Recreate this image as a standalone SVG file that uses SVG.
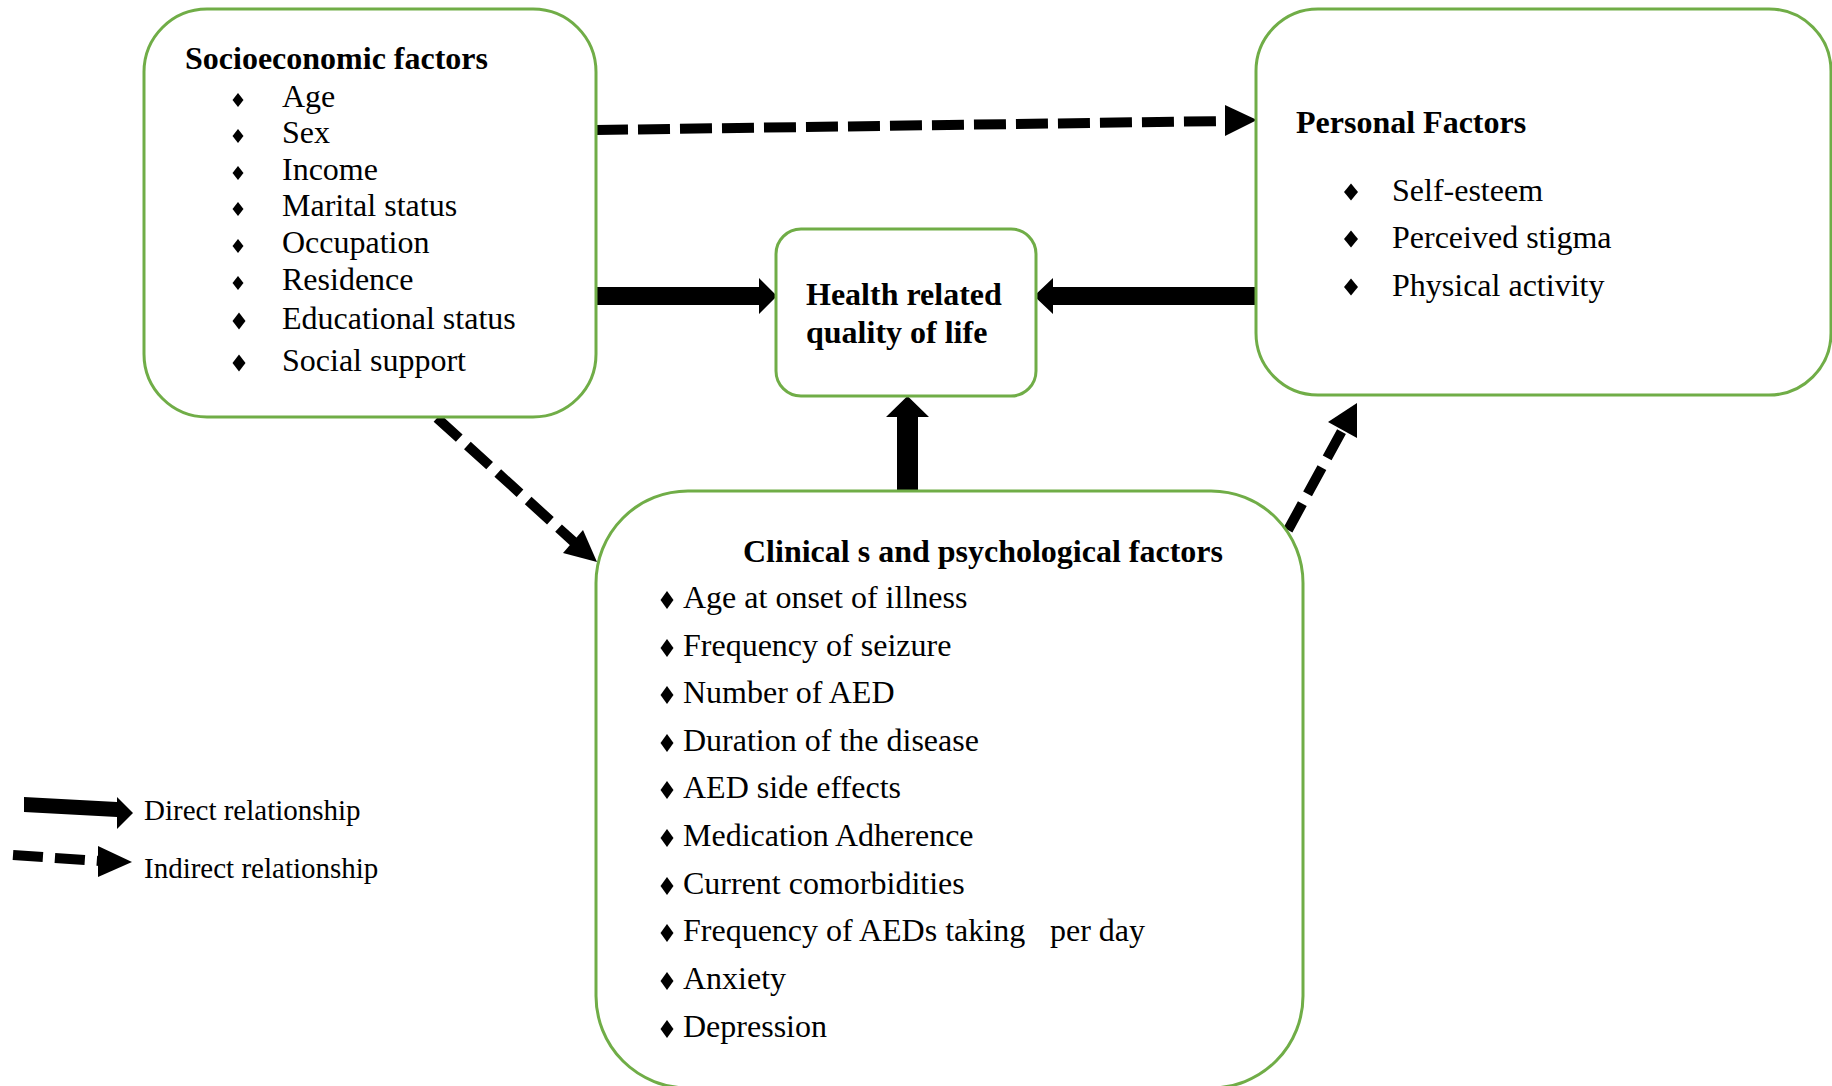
<svg xmlns="http://www.w3.org/2000/svg" xmlns:xlink="http://www.w3.org/1999/xlink" width="1832" height="1086" viewBox="0 0 1832 1086">
<style>
.box{fill:#fff;stroke:#70AD47;stroke-width:3}
.t{font-family:"Liberation Serif","Times New Roman",serif;font-size:32px;fill:#000}
.b{font-weight:bold}
.lg{font-size:29px}
.dash{fill:none;stroke:#000;stroke-width:10}
.solid{fill:#000}
</style>
<defs>
<polygon id="ds" points="0,-7 5.5,0 0,7 -5.5,0" fill="#000"/>
<polygon id="dm" points="0,-8.5 6.5,0 0,8.5 -6.5,0" fill="#000"/>
<polygon id="dr" points="0,-8.5 7,0 0,8.5 -7,0" fill="#000"/>
<polygon id="dc" points="0,-9 6.5,0 0,9 -6.5,0" fill="#000"/>
</defs>
<rect width="1832" height="1086" fill="#fff"/>

<g id="connectors">
<line class="dash" x1="596" y1="130" x2="1226" y2="121" stroke-dasharray="32 10"/>
<polygon class="solid" points="1225,105 1257,120 1225,136"/>
<polygon class="solid" points="596,287 759,287 759,278 777,296 759,314 759,305 596,305"/>
<polygon class="solid" points="1256,287 1053,287 1053,278 1034,296 1053,314 1053,305 1256,305"/>
<polygon class="solid" points="897,491 897,417 886,417 907.5,396 929,417 918,417 918,491"/>
<line class="dash" x1="437" y1="418" x2="575" y2="543" stroke-width="11" stroke-dasharray="30 11"/>
<polygon class="solid" points="563,553 583,530 597,562"/>
<line class="dash" x1="1288" y1="530" x2="1344" y2="427" stroke-width="11" stroke-dasharray="30 11"/>
<polygon class="solid" points="1328,422 1357,403 1357,438"/>
</g>

<g id="socioeconomic">
<rect class="box" x="144" y="9" width="452" height="408" rx="63"/>
<text class="t b" x="185" y="69">Socioeconomic factors</text>
<use href="#ds" x="238" y="100"/><text class="t" x="282" y="107">Age</text>
<use href="#ds" x="238" y="136"/><text class="t" x="282" y="143">Sex</text>
<use href="#ds" x="238" y="173"/><text class="t" x="282" y="180">Income</text>
<use href="#ds" x="238" y="209"/><text class="t" x="282" y="216">Marital status</text>
<use href="#ds" x="238" y="246"/><text class="t" x="282" y="253">Occupation</text>
<use href="#ds" x="238" y="283"/><text class="t" x="282" y="290">Residence</text>
<use href="#dm" x="239" y="321"/><text class="t" x="282" y="329">Educational status</text>
<use href="#dm" x="239" y="363"/><text class="t" x="282" y="371">Social support</text>
</g>

<g id="hrqol">
<rect class="box" x="776" y="229" width="260" height="167" rx="25"/>
<text class="t b" x="806" y="305">Health related</text>
<text class="t b" x="806" y="343">quality of life</text>
</g>

<g id="personal">
<rect class="box" x="1256" y="9" width="575" height="386" rx="62"/>
<text class="t b" x="1296" y="133">Personal Factors</text>
<use href="#dr" x="1351" y="192"/><text class="t" x="1392" y="201">Self-esteem</text>
<use href="#dr" x="1351" y="239"/><text class="t" x="1392" y="248">Perceived stigma</text>
<use href="#dr" x="1351" y="287"/><text class="t" x="1392" y="296">Physical activity</text>
</g>

<g id="clinical">
<rect class="box" x="596" y="491" width="707" height="597" rx="92"/>
<text class="t b" x="743" y="562">Clinical s and psychological factors</text>
<use href="#dc" x="667" y="600"/><text class="t" x="683" y="608">Age at onset of illness</text>
<use href="#dc" x="667" y="648"/><text class="t" x="683" y="656">Frequency of seizure</text>
<use href="#dc" x="667" y="695"/><text class="t" x="683" y="703">Number of AED</text>
<use href="#dc" x="667" y="743"/><text class="t" x="683" y="751">Duration of the disease</text>
<use href="#dc" x="667" y="790"/><text class="t" x="683" y="798">AED side effects</text>
<use href="#dc" x="667" y="838"/><text class="t" x="683" y="846">Medication Adherence</text>
<use href="#dc" x="667" y="886"/><text class="t" x="683" y="894">Current comorbidities</text>
<use href="#dc" x="667" y="933"/><text class="t" x="683" y="941">Frequency of AEDs taking<tspan x="1050">per day</tspan></text>
<use href="#dc" x="667" y="981"/><text class="t" x="683" y="989">Anxiety</text>
<use href="#dc" x="667" y="1029"/><text class="t" x="683" y="1037">Depression</text>
</g>

<g id="legend">
<polygon class="solid" points="24,797 117,802 117,797 133,813 117,829 117,817 24,812"/>
<text class="t lg" x="144" y="820">Direct relationship</text>
<line class="dash" x1="13" y1="855" x2="100" y2="861" stroke-dasharray="30 12"/>
<polygon class="solid" points="98,846 132,862 98,877"/>
<text class="t lg" x="144" y="878">Indirect relationship</text>
</g>
</svg>
